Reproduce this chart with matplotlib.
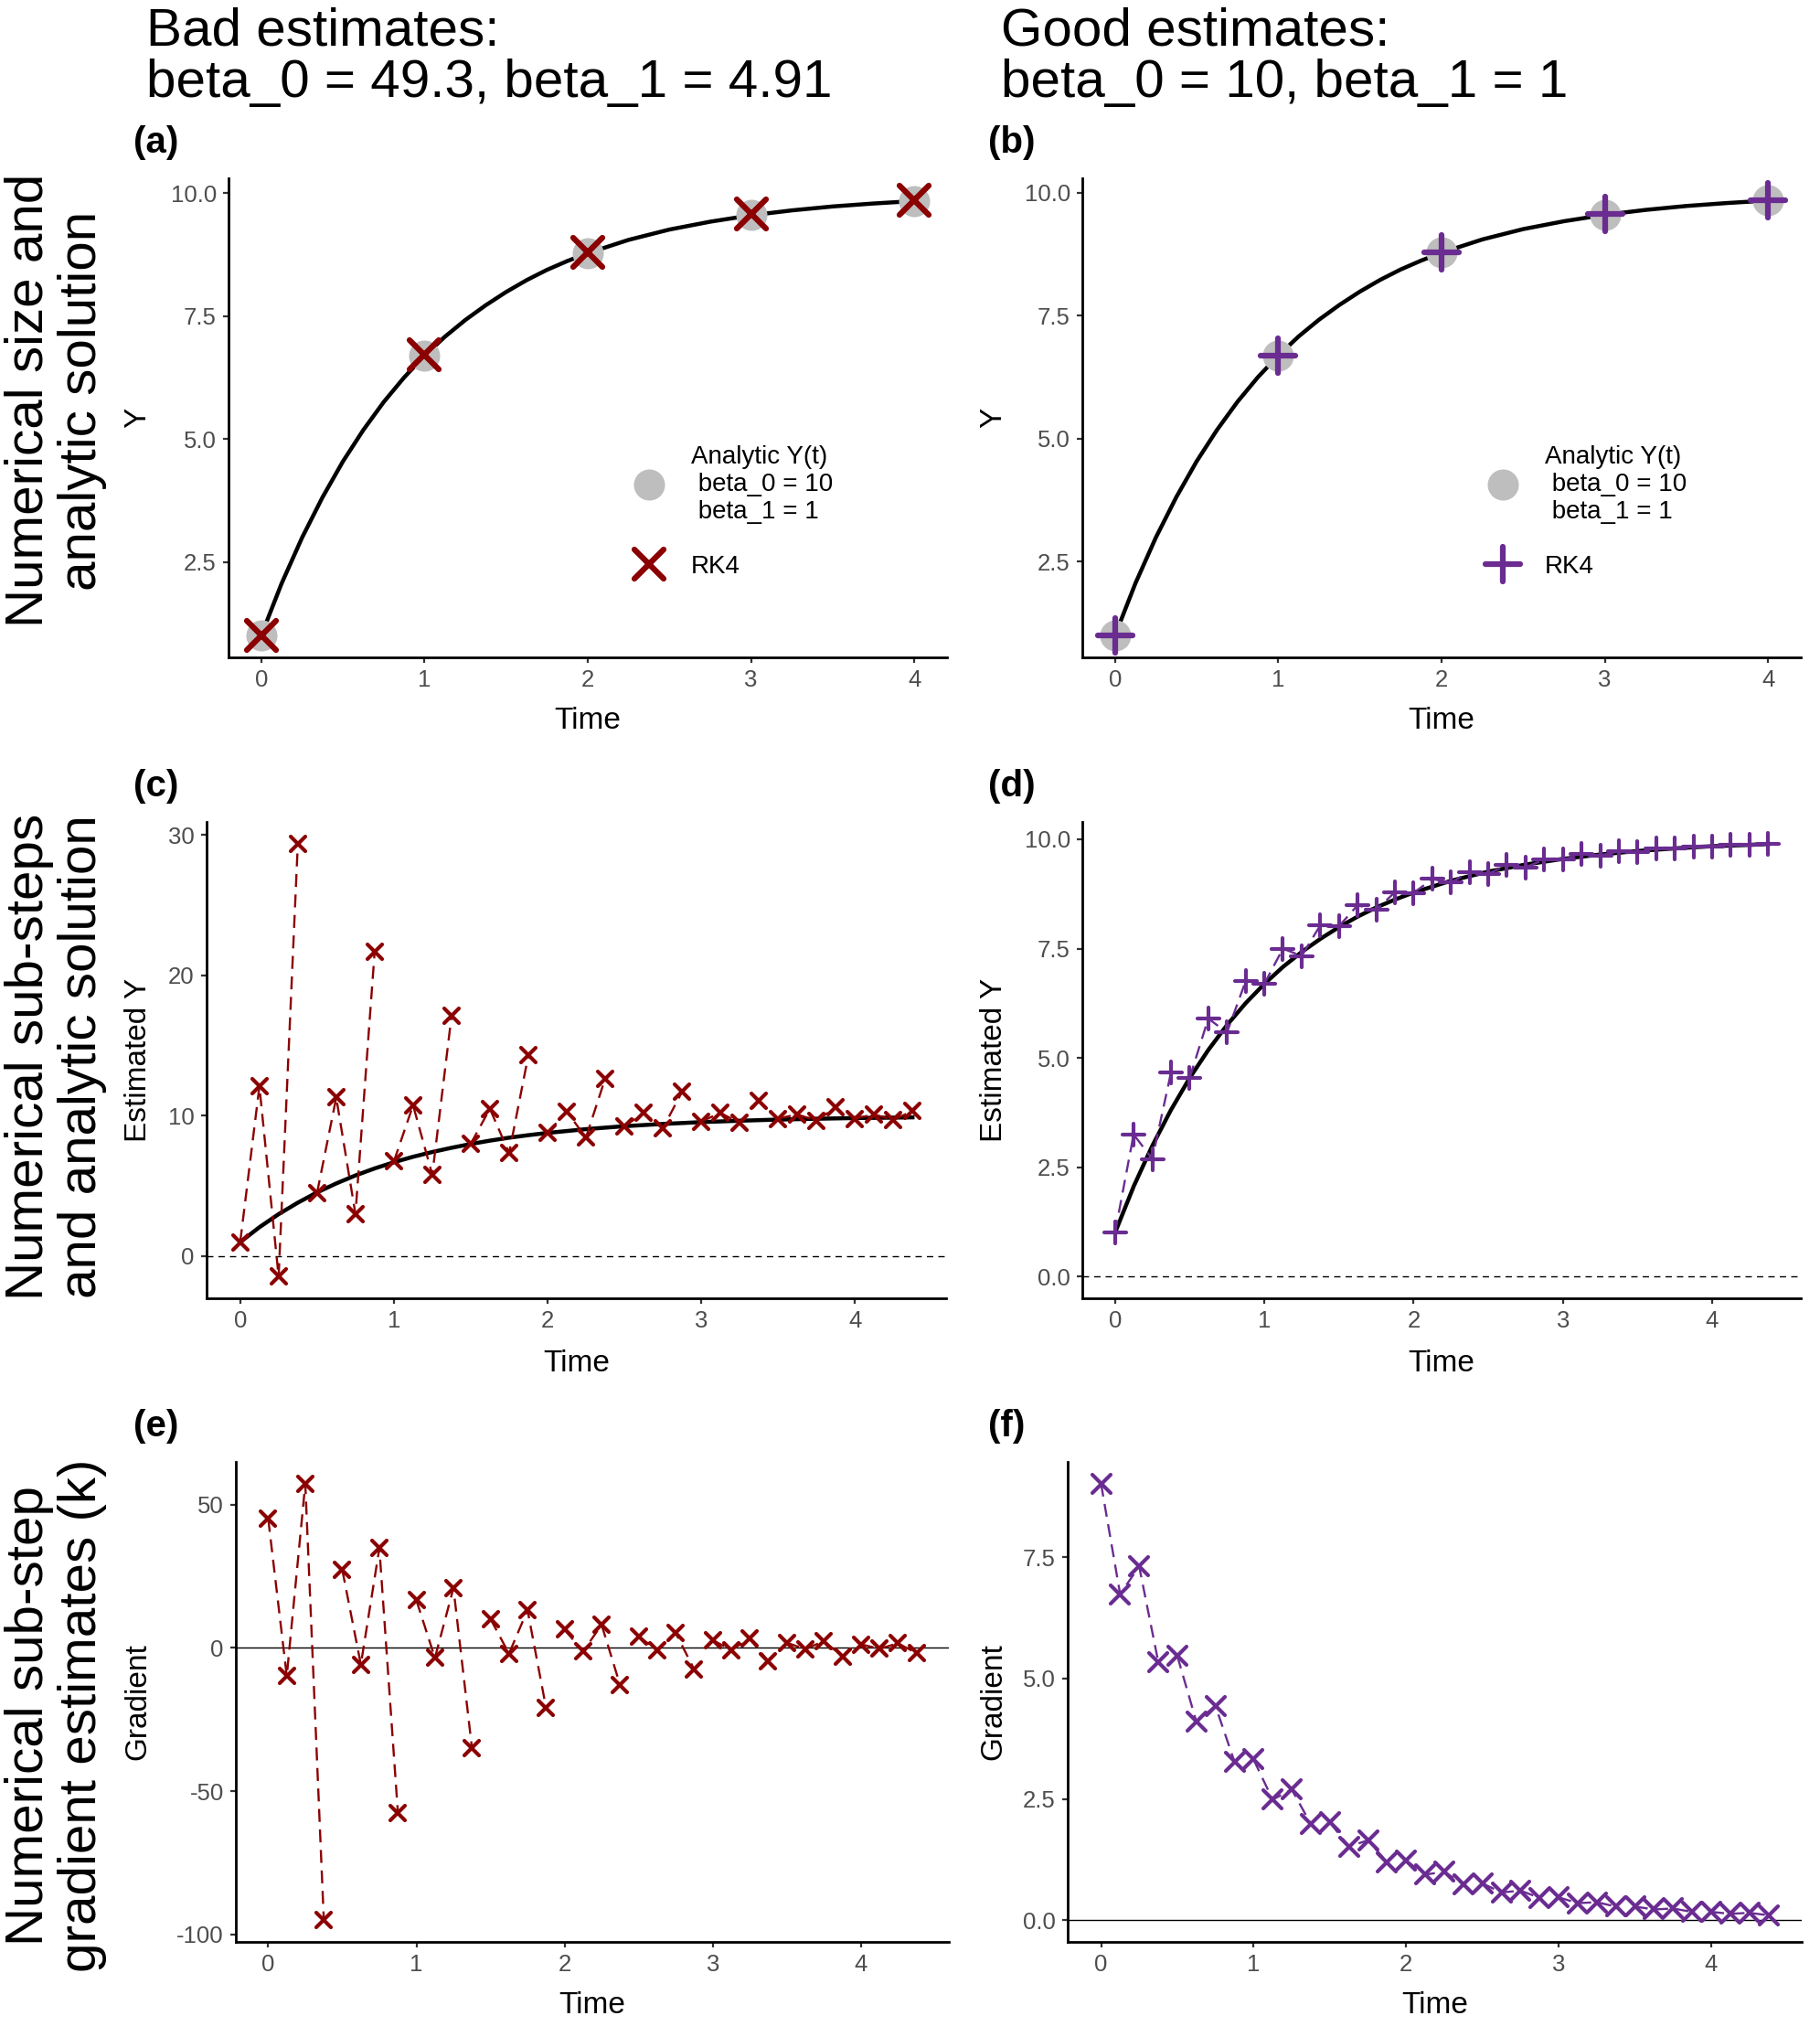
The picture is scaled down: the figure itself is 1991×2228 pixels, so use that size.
import numpy as np
import matplotlib
matplotlib.use("Agg")
import matplotlib.pyplot as plt
from matplotlib.lines import Line2D
from matplotlib.markers import MarkerStyle

plt.rcParams['font.family'] = ['Liberation Sans', 'DejaVu Sans']
plt.rcParams['axes.unicode_minus'] = False

# ---- data ----
# whole steps (panels a, b)
t_main = [0, 1, 2, 3, 4]
y_analytic = [1.0, 6.69, 8.78, 9.55, 9.84]
rk4_bad = [1.0, 6.71, 8.80, 9.57, 9.86]
rk4_good = [1.0, 6.69, 8.79, 9.56, 9.85]

# analytic curve (beta_0 = 10, beta_1 = 1)
t_curve = [0, 0.125, 0.25, 0.375, 0.5, 0.625, 0.75, 0.875, 1.0, 1.125, 1.25,
           1.375, 1.5, 1.625, 1.75, 1.875, 2.0, 2.25, 2.5, 2.75, 3.0, 3.25,
           3.5, 3.75, 4.0, 4.25, 4.375]
y_curve = [1.0, 2.06, 2.99, 3.81, 4.54, 5.18, 5.75, 6.25, 6.69, 7.08, 7.42,
           7.72, 7.99, 8.23, 8.44, 8.62, 8.78, 9.05, 9.26, 9.42, 9.55, 9.65,
           9.73, 9.79, 9.84, 9.87, 9.89]

# sub-steps (panels c-f), 4 sub-steps per RK4 step
t_sub = np.arange(36) * 0.125
bad_y_sub = [1.0, 12.1, -1.46, 29.4, 4.5, 11.3, 3.0, 21.7, 6.75, 10.75, 5.8, 17.1,
             8.0, 10.5, 7.35, 14.3, 8.8, 10.3, 8.45, 12.65, 9.25, 10.2, 9.1, 11.7,
             9.6, 10.2, 9.5, 11.05, 9.8, 10.1, 9.65, 10.6, 9.8, 10.1, 9.7, 10.35]
good_y_sub = [1.0, 3.25, 2.69, 4.66, 4.54, 5.9, 5.58, 6.75, 6.69, 7.5, 7.33, 8.03,
              8.01, 8.49, 8.38, 8.79, 8.77, 9.09, 9.01, 9.25, 9.21, 9.41, 9.36, 9.53,
              9.53, 9.66, 9.63, 9.72, 9.70, 9.78, 9.78, 9.83, 9.83, 9.87, 9.87, 9.90]
bad_k = [45.0, -9.8, 57.3, -95.0, 27.2, -5.8, 34.8, -57.5, 16.6, -3.5, 20.9, -35.0,
         10.1, -2.0, 13.2, -20.9, 6.4, -1.25, 8.1, -13.0, 3.9, -0.7, 5.2, -7.5,
         2.7, -0.7, 3.3, -4.7, 1.8, -0.45, 2.4, -3.0, 1.25, -0.3, 1.6, -1.8]
good_k = [9.02, 6.74, 7.31, 5.34, 5.46, 4.10, 4.43, 3.27, 3.32, 2.49, 2.70, 1.99,
          2.02, 1.52, 1.65, 1.20, 1.23, 0.94, 1.00, 0.74, 0.76, 0.57, 0.61, 0.46,
          0.47, 0.35, 0.37, 0.28, 0.28, 0.22, 0.24, 0.17, 0.17, 0.13, 0.15, 0.10]

RED = "#8B0000"
PURPLE = "#6A2C91"
GREY = "#BEBEBE"
legend_label = "Analytic Y(t)\n beta_0 = 10\n beta_1 = 1"

W, H = 1991, 2228
fig = plt.figure(figsize=(W / 100, H / 100), dpi=100)


def px_axes(left, top, right, bottom):
    return fig.add_axes([left / W, 1 - bottom / H, (right - left) / W, (bottom - top) / H])


def expand(lo, hi, f=0.05):
    d = (hi - lo) * f
    return lo - d, hi + d


def style(ax):
    for s in ["top", "right"]:
        ax.spines[s].set_visible(False)
    for s in ["left", "bottom"]:
        ax.spines[s].set_linewidth(2.0)
    ax.tick_params(direction="out", length=4.5, width=1.6, color="#333333",
                   labelsize=18.5, labelcolor="#4D4D4D", pad=5)


def xmark(kind):
    return MarkerStyle(kind, capstyle="round")


# panel boxes in pixels: left, top, right, bottom
boxes = {
    "a": (250, 195, 1036, 719), "b": (1184, 195, 1970, 719),
    "c": (226, 899, 1035, 1420), "d": (1184, 899, 1970, 1420),
    "e": (258, 1599, 1038, 2124), "f": (1168, 1599, 1971, 2124),
}
ylab_x = 151  # left column y-title centre (px)
ylab_x2 = 1087
xlab_y = {"a": 789, "b": 789, "c": 1491, "d": 1491, "e": 2193, "f": 2193}

axes = {k: px_axes(*v) for k, v in boxes.items()}

# ---- row 1: whole steps ----
for key, rk4, col, mk, ms in [("a", rk4_bad, RED, "x", 23), ("b", rk4_good, PURPLE, "+", 27)]:
    ax = axes[key]
    ax.plot(t_curve[:25], y_curve[:25], color="black", lw=3.2, zorder=2)
    ax.plot(t_main, y_analytic, ls="none", marker="o", ms=24.5, mew=0, color=GREY, zorder=3)
    ax.plot(t_main, rk4, ls="none", marker=xmark(mk), ms=ms, mew=4.5, color=col, zorder=4)
    ax.set_xlim(*expand(0, 4))
    ax.set_ylim(*expand(min(y_curve[:25] + rk4), max(y_curve[:25] + rk4)))
    ax.set_yticks([2.5, 5.0, 7.5, 10.0])
    ax.set_yticklabels(["2.5", "5.0", "7.5", "10.0"])
    ax.set_ylabel("Y", fontsize=24)
    handles = [Line2D([], [], ls="none", marker="o", ms=24.5, mew=0, color=GREY),
               Line2D([], [], ls="none", marker=xmark(mk), ms=ms, mew=4.5, color=col)]
    leg = ax.legend(handles, [legend_label, "RK4"], loc="upper left",
                    bbox_to_anchor=(0.559, 0.443), frameon=False, fontsize=20,
                    borderpad=0, borderaxespad=0, handlelength=1.5,
                    handletextpad=0.9, labelspacing=1.22)
    for txt in leg.get_texts():
        txt.set_linespacing(1.2)

# ---- row 2: sub-step estimates ----
for key, vals, col, mk, ms in [("c", bad_y_sub, RED, "x", 11.5), ("d", good_y_sub, PURPLE, "+", 17)]:
    ax = axes[key]
    ax.axhline(0, color="black", lw=1.0, ls=(0, (5, 4)), zorder=1)
    ax.plot(t_curve, y_curve, color="black", lw=3.2, zorder=2)
    for i in range(0, len(vals), 4):
        ax.plot(t_sub[i:i + 4], vals[i:i + 4], color=col, lw=1.7, ls=(0, (6, 3.5)), zorder=3)
    ax.plot(t_sub, vals, ls="none", marker=xmark(mk), ms=ms, mew=3, color=col, zorder=4)
    ax.set_xlim(*expand(0, t_sub[-1]))
    ax.set_ylim(*expand(min(min(vals), 0), max(vals)))
    ax.set_ylabel("Estimated Y", fontsize=24)
axes["c"].set_yticks([0, 10, 20, 30])
axes["d"].set_yticks([0, 2.5, 5.0, 7.5, 10.0])
axes["d"].set_yticklabels(["0.0", "2.5", "5.0", "7.5", "10.0"])

# ---- row 3: gradient estimates ----
for key, vals, col, ms in [("e", bad_k, RED, 11.5), ("f", good_k, PURPLE, 14)]:
    ax = axes[key]
    ax.axhline(0, color="black", lw=1.0, zorder=1)
    for i in range(0, len(vals), 4):
        ax.plot(t_sub[i:i + 4], vals[i:i + 4], color=col, lw=1.7, ls=(0, (6, 3.5)), zorder=3)
    ax.plot(t_sub, vals, ls="none", marker=xmark("x"), ms=ms, mew=3, color=col, zorder=4)
    ax.set_xlim(*expand(0, t_sub[-1]))
    ax.set_ylim(*expand(min(min(vals), 0), max(vals)))
    ax.set_ylabel("Gradient", fontsize=24)
axes["e"].set_yticks([-100, -50, 0, 50])
axes["f"].set_yticks([0, 2.5, 5.0, 7.5])
axes["f"].set_yticklabels(["0.0", "2.5", "5.0", "7.5"])

# common styling and label placement
for key, ax in axes.items():
    style(ax)
    l, t, r, b = boxes[key]
    ax.set_xticks([0, 1, 2, 3, 4])
    ax.set_xlabel("Time", fontsize=24)
    ax.xaxis.label.set_va("center")
    ax.xaxis.set_label_coords(0.5, (b - xlab_y[key]) / (b - t))
    yx = ylab_x if l < 1000 else ylab_x2
    ax.yaxis.label.set_va("center")
    ax.yaxis.set_label_coords((yx - l) / (r - l), 0.5)
    fig.text((146 if l < 1000 else 1081) / W, 1 - (t - 39) / H, "(%s)" % key,
             fontsize=29, fontweight="bold", ha="left", va="center")

# column titles
for x, l1, l2 in [(160, "Bad estimates:", "beta_0 = 49.3, beta_1 = 4.91"),
                  (1095, "Good estimates:", "beta_0 = 10, beta_1 = 1")]:
    fig.text(x / W, 1 - 49 / H, l1, fontsize=42, va="baseline", ha="left")
    fig.text(x / W, 1 - 106 / H, l2, fontsize=42, va="baseline", ha="left")

# row titles
for yc, txt in [(438, "Numerical size and\nanalytic solution"),
                (1156, "Numerical sub-steps\nand analytic solution"),
                (1876, "Numerical sub-step\ngradient estimates (k)")]:
    fig.text(61 / W, 1 - yc / H, txt, fontsize=42, rotation=90, ha="center",
             va="center", multialignment="center", linespacing=1.1)

fig.savefig("out.png", dpi=100)
